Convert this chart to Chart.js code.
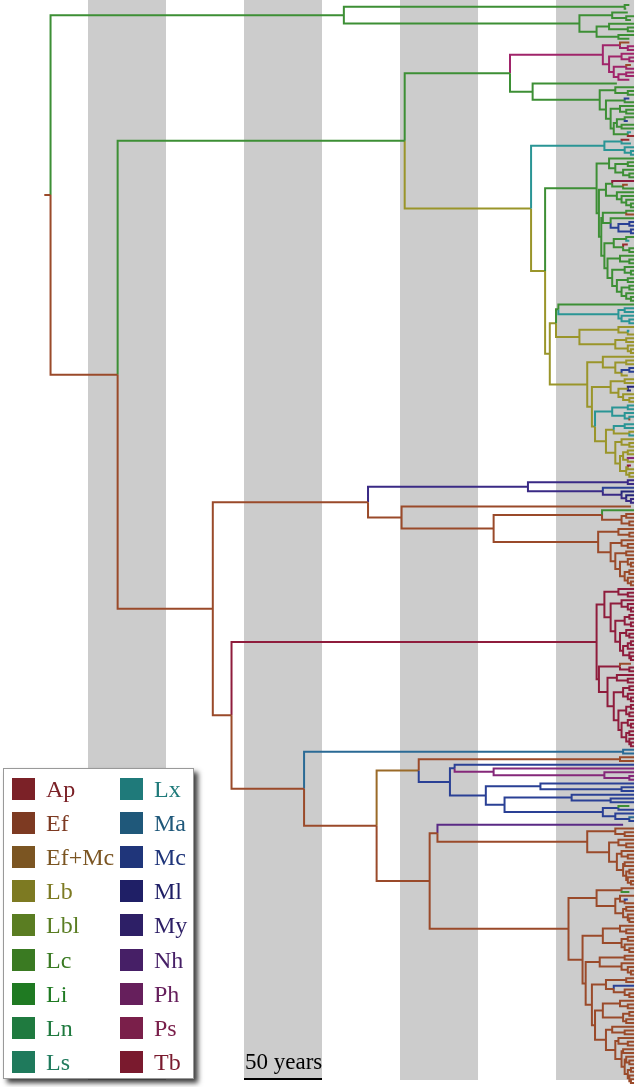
<!DOCTYPE html>
<html>
<head>
<meta charset="utf-8">
<script src="https://cdn.jsdelivr.net/npm/chart.js@4.4.1/dist/chart.umd.min.js"></script>
<style>
  body { margin: 0; background: #fff; }
  #wrap { position: relative; width: 637px; height: 1087px; overflow: hidden; }
  #legend {
    position: absolute; left: 3px; top: 768px; width: 189px; height: 309px;
    background: #fff; border: 1px solid #999;
    box-shadow: 4px 4px 5px rgba(0,0,0,0.75);
    font-family: "Liberation Serif", "DejaVu Serif", serif; font-size: 24px;
  }
  .item { position: absolute; height: 22px; line-height: 22px; white-space: nowrap; }
  .sw { display: inline-block; width: 23px; height: 22px; vertical-align: top; margin-right: 11px; }
  #scaleLabel {
    position: absolute; top: 1051px; line-height: 22px;
    font-family: "Liberation Serif", "DejaVu Serif", serif; font-size: 23px; color: #000;
  }
</style>
</head>
<body>
<div id="wrap">
  <canvas id="tree" width="637" height="1087"></canvas>
  <div id="legend"></div>
  <div id="scaleLabel">50 years</div>
</div>
<script>
// lineage codes used in the tree string, legend order
const legendCodes  = ["a", "e", "f", "b", "l", "c", "i", "n", "s", "x", "m", "k", "o", "y", "h", "p", "q", "t"];
const legendLabels = ["Ap", "Ef", "Ef+Mc", "Lb", "Lbl", "Lc", "Li", "Ln", "Ls", "Lx", "Ma", "Mc", "Ml", "My", "Nh", "Ph", "Ps", "Tb"];
const swatchColors = ["#7b2127", "#7d3a22", "#7b5522", "#7d7a22", "#5a7d22", "#3a7a22", "#1f7a22", "#1f7a3f", "#1f7a5c",
                      "#1f7a7a", "#1f587a", "#1f357a", "#1f1f66", "#2d1f66", "#461f66", "#661f5c", "#7a1f4a", "#7a1a2e"];
const lineColors   = ["#9a2a2e", "#9a4a2a", "#9a6a28", "#9a952a", "#6a952a", "#3d8f35", "#2a8f2a", "#2a8a4a", "#2a8a6a",
                      "#2a9595", "#2a6a95", "#2a4095", "#23237a", "#3a2a85", "#5a2a85", "#85287a", "#a0246a", "#8f1c3c"];

// grey time bands, years before present
const bands = [[0, 50], [100, 150], [200, 250], [300, 350]];
const scaleBar = [250, 200];
const rootStart = 378;

// clades: letter = lineage, "." = same as parent, number after ")" = node age (years before present)
const cladeA   = "c((.3,.5)6,((.4,(.,.2)5)14,((.,(.,.)4)16,(.,.3)10)24)35)186";
const cladePs  = "q((e3,(.,.)4)9,((.,(.,.)3)8,((e2,.)5,((.,.)5,.3)10)13)16)20";
const cladeC1g = "c(.11,((.,(.,.)4)12,((k3,.)6,((.,(.,.)5)9,(((.,k4)6,(.,.)8)11,(x2,a)4)13)15)18)22)65";
const cladeLx  = "x((a3,.2)8,(.,(.,.)2)6)19";
const g1    = "(.,((.,.)4,(.,(.,.)3)7)12)16";
const g2a   = "((t,(e4,.)7)14,(.,(.,(.,(.,.)2)5)8)11)18";
const g2b1  = "((.,e)5,(.,k((.,.)3,(.,.)2)10)15)20";
const g2b2a = "((.,x3)5,(a4,(.,.)3)7)13";
const g2b2b = "((.,(.,.)3)9,((.,(.,.)2)6,((.,.)4,((.,.)3,(.,(.,.)2)5)8)11)14)17";
const o3a   = "(c(.,x((.,.)6,(.,(.,.)3)8)10)48.5,((.,(x3,.)4)10,((.,.)5,(.,(.,.)2)4)12)35)50";
const b1    = "(.,((.,.)5,(k(.,.)3,.4)8)12)20";
const b2a   = "((.,.)6,((o,o2)4,(.,(.,.)3)7)10)15";
const tealc = "x((.,.)4,(.,(.,e3)3)6)14";
const rest  = "((x(.,.)6,(.,x)3)13,((.,(.,.)3)8,(((.,.)4,(p,.)4)7,((t2,.)4,(.,.)3)5)9)12)18";
const my    = "y((.,.)4,(k,(o,(o,(.,.)2)5)8)20)68";
const d1d   = "(c,((.,.)5,(.,.)3)8)20.5";
const d1e   = "((.,(.,.)3)10,((.,(.,.)4)8,((.,.)5,((.,(.,.)2)4,((.,.)3,(.,(.,.)2)4)6)9)12)15)23";
const tb1   = "((.,(.,.)4)10,((.,(.,(.,.)2)4)8,(((.,.)3,(.,.)2)6,((.,(.,.)3)5,(((.,.)2,.)4,(.,(.,.)2)3)7)9)12)15)19";
const tb2   = "((e2,(.,.)3)9,((.,(.,.)4)11,(((.,.)3,(.,(.,.)2)4)7,(((.,.)2,(.,.)3)5,((.,(.,.)2)4,((.,.)3,(.,(.,.)2)3)5)8)10)13)17)22.5";
const k1    = "(.,p(.,(.,(.,.)3)19)90)115";
const k2    = "((.,(.,.)8)60,((.,(.,.)15)40,((c3,.)10,(.,(m,.)3)12)20)83)95";
const h1c   = "e((.,(.,.)6)12,((.,(.,.)5)10,((.,(.,.)4)8,((.,.)6,((.,.)3,(.,(.,.)2)4)5)7)11)16)30";
const h2a   = "((.,c3)8,((.,(k4,.)6)9,((.,.)5,(.,(.,.)3)4)7)12)24";
const h2c   = "((.,(.,.)5)9,((.,.)4,(.,(.,.)3)6)8)20";
const q1    = "((.,.)6,(.,(.,(.,.)2)4)8)22";
const q2    = "((.,.)5,(k,(.,(.,.)3)6)13)18";
const q3    = "((.,(.,.)4)9,((.,.)3,(.,.)5)7)20";
const q4    = "((.,(.,.)6)14,((.,(.,.)4)10,((.,.)7,((.,(.,.)3)5,((.,.)2,(.,(.,.)2)3)4)6)8)12)18";

const cladeG  = "c(" + g1 + ",(" + g2a + ",(" + g2b1 + ",(" + g2b2a + "," + g2b2b + ")19)21)22.5)24";
const o3b     = "(" + b1 + ",(" + b2a + ",(" + tealc + "," + rest + ")25)27)30";
const cladeO  = "b(" + cladeLx + ",(" + cladeG + ",(" + o3a + "," + o3b + ")54)57)66";
const cladeC  = "c((" + cladePs + "," + cladeC1g + ")79.5," + cladeO + ")147";
const cladeD1 = "(" + my + ",e(.2,(" + d1d + "," + d1e + ")90)149)170.5";
const cladeTb = "t(" + tb1 + "," + tb2 + ")24";
const cladeFM = "f(e(.,.)9,k(" + k1 + "," + k2 + ")118)138";
const cladeH1 = "(h7," + h1c + ")126";
const cladeH2 = "(" + h2a + ",(" + h2c + ",(" + q1 + ",(" + q2 + ",(" + q3 + "," + q4 + ")25)27)31)33)42";
const cladeE  = "e(m(.,.)7,(" + cladeFM + ",(" + cladeH1 + "," + cladeH2 + ")131)165)211.5";
const cladeD  = "e(" + cladeD1 + ",(" + cladeTb + "," + cladeE + ")258)270";
const treeString = "e(" + cladeA + ",(" + cladeC + "," + cladeD + ")331)374";

function parseTree(s) {
  let i = 0;
  function readNum() {
    const m = /^\d+(\.\d+)?/.exec(s.slice(i));
    if (!m) return 0;
    i += m[0].length;
    return parseFloat(m[0]);
  }
  function node(parentColor) {
    let color = parentColor;
    if (/[a-z.]/.test(s[i])) { if (s[i] !== ".") color = s[i]; i++; }
    const n = { color: color, children: [] };
    if (s[i] === "(") {
      i++;
      n.children.push(node(color));
      while (s[i] === ",") { i++; n.children.push(node(color)); }
      if (s[i] !== ")") throw new Error("bad tree at " + i);
      i++;
    }
    n.age = readNum();
    return n;
  }
  return node("e");
}

const root = parseTree(treeString);
let tipCount = 0;
(function layout(n) {
  if (!n.children.length) { n.y = tipCount++; return; }
  n.children.forEach(layout);
  n.y = (n.children[0].y + n.children[n.children.length - 1].y) / 2;
})(root);

// one dataset per lineage colour, branches separated by gaps
const byCode = {};
function addBranch(code, pts) {
  (byCode[code] = byCode[code] || []).push(...pts, { x: pts[0].x, y: null });
}
addBranch(root.color, [{ x: rootStart, y: root.y }, { x: root.age, y: root.y }]);
(function walk(n) {
  n.children.forEach(ch => {
    addBranch(ch.color, [{ x: n.age, y: n.y }, { x: n.age, y: ch.y }, { x: ch.age, y: ch.y }]);
    walk(ch);
  });
})(root);

const datasets = Object.keys(byCode).map(code => ({
  data: byCode[code],
  borderColor: lineColors[legendCodes.indexOf(code)],
  borderWidth: 2,
  pointRadius: 0,
  fill: false,
  tension: 0,
  spanGaps: false,
  borderJoinStyle: "miter"
}));

const topPx = 5, bottomPx = 1083, H = 1087;
const dy = (bottomPx - topPx) / (tipCount - 1);
const yMin = -topPx / dy, yMax = yMin + H / dy;

const bandPlugin = {
  id: "bands",
  beforeDatasetsDraw(chart) {
    const { ctx, scales: { x } } = chart;
    ctx.save();
    ctx.fillStyle = "#cccccc";
    bands.forEach(([a, b]) => {
      const x1 = x.getPixelForValue(b), x2 = x.getPixelForValue(a);
      ctx.fillRect(Math.min(x1, x2), 0, Math.abs(x2 - x1), 1080);
    });
    ctx.restore();
  },
  afterDatasetsDraw(chart) {
    const { ctx, scales: { x } } = chart;
    ctx.save();
    ctx.strokeStyle = "#000";
    ctx.lineWidth = 2;
    ctx.beginPath();
    ctx.moveTo(x.getPixelForValue(scaleBar[0]), 1079);
    ctx.lineTo(x.getPixelForValue(scaleBar[1]), 1079);
    ctx.stroke();
    ctx.restore();
  }
};

const chart = new Chart(document.getElementById("tree"), {
  type: "line",
  data: { datasets: datasets },
  options: {
    responsive: false,
    animation: false,
    events: [],
    layout: { padding: 0 },
    scales: {
      x: { type: "linear", reverse: true, min: -1.9, max: 406.4, display: false },
      y: { type: "linear", reverse: true, min: yMin, max: yMax, display: false }
    },
    plugins: { legend: { display: false }, tooltip: { enabled: false } }
  },
  plugins: [bandPlugin]
});

document.getElementById("scaleLabel").style.left = (chart.scales.x.getPixelForValue(scaleBar[0]) + 1) + "px";

const legend = document.getElementById("legend");
legendLabels.forEach((label, i) => {
  const col = Math.floor(i / 9), row = i % 9;
  const el = document.createElement("div");
  el.className = "item";
  el.style.left = (col ? 116 : 8) + "px";
  el.style.top = (9 + row * 34.1) + "px";
  el.style.color = swatchColors[i];
  el.innerHTML = '<span class="sw" style="background:' + swatchColors[i] + '"></span>' + label;
  legend.appendChild(el);
});
</script>
</body>
</html>
